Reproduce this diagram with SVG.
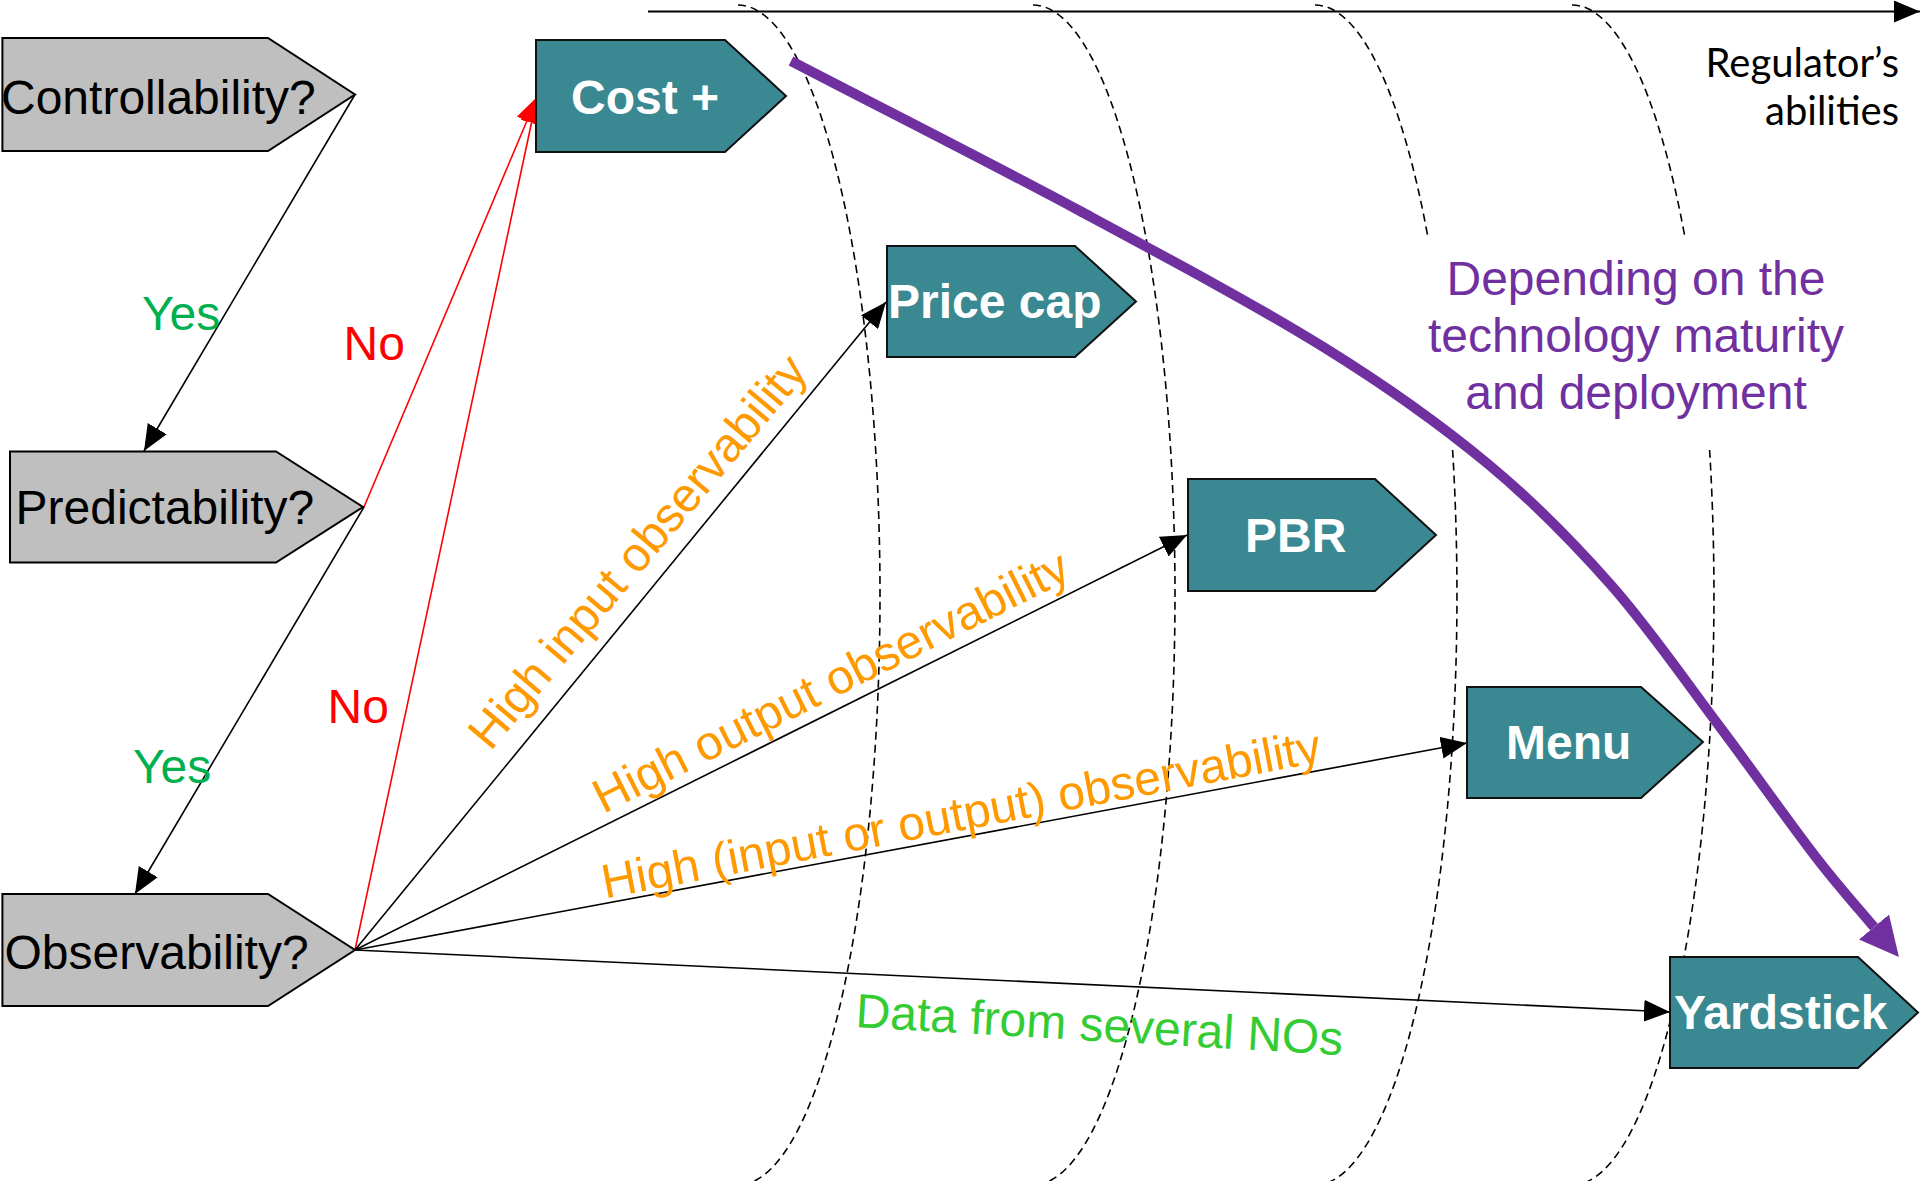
<svg xmlns="http://www.w3.org/2000/svg" width="1920" height="1181" viewBox="0 0 1920 1181">
<style>
.gray{fill:#BFBFBF;stroke:#000;stroke-width:2}
.teal{fill:#3A8891;stroke:#111;stroke-width:2}
.qt{font-family:"Liberation Sans",Arial,sans-serif;font-size:48px;fill:#000}
.rt{font-family:"Liberation Sans",Arial,sans-serif;font-size:48px;font-weight:bold;fill:#fff}
.lbl{font-family:"Liberation Sans",Arial,sans-serif;font-size:48px}
.dash{fill:none;stroke:#000;stroke-width:1.6;stroke-dasharray:8 5}
.conn{fill:none;stroke:#000;stroke-width:1.6}
.red{fill:none;stroke:#FF0000;stroke-width:1.6}
.yes{fill:#00B050}
.no{fill:#FF0000}
.or{fill:#FF9900}
</style>
<defs>
<marker id="ah" viewBox="0 0 26 22" refX="26" refY="11" markerWidth="26" markerHeight="22" markerUnits="userSpaceOnUse" orient="auto"><path d="M0,0 L26,11 L0,22 z" fill="#000"/></marker>
<marker id="ahr" viewBox="0 0 26 22" refX="26" refY="11" markerWidth="26" markerHeight="22" markerUnits="userSpaceOnUse" orient="auto"><path d="M0,0 L26,11 L0,22 z" fill="#FF0000"/></marker>
<marker id="ahp" viewBox="0 0 39 39" refX="0" refY="19.5" markerWidth="39" markerHeight="39" markerUnits="userSpaceOnUse" orient="auto"><path d="M0,0 L39,19.5 L0,39 z" fill="#7030A0"/></marker>
</defs>
<rect width="1920" height="1181" fill="#fff"/>
<g id="levels">
<path class="dash" d="M738 5 A142 590 0 0 1 738 1185"/>
<path class="dash" d="M1033 5 A142 590 0 0 1 1033 1185"/>
<path class="dash" d="M1315 5 A142 590 0 0 1 1427.9 237"/>
<path class="dash" d="M1452.6 450 A142 590 0 0 1 1315 1185"/>
<path class="dash" d="M1572 5 A142 590 0 0 1 1684.9 237"/>
<path class="dash" d="M1709.6 450 A142 590 0 0 1 1572 1185"/>
<line x1="648" y1="11.5" x2="1920" y2="11.5" stroke="#000" stroke-width="2" marker-end="url(#ah)"/>
</g>
<g id="connectors">
<line class="conn" x1="355" y1="94.5" x2="144" y2="451" marker-end="url(#ah)"/>
<line class="conn" x1="364" y1="507" x2="135" y2="894" marker-end="url(#ah)"/>
<line class="red" x1="364" y1="507" x2="537" y2="97" marker-end="url(#ahr)"/>
<line class="red" x1="355" y1="950" x2="537" y2="97" marker-end="url(#ahr)"/>
<line class="conn" x1="355" y1="950" x2="886" y2="302" marker-end="url(#ah)"/>
<line class="conn" x1="355" y1="950" x2="1187" y2="535" marker-end="url(#ah)"/>
<line class="conn" x1="355" y1="950" x2="1467" y2="743" marker-end="url(#ah)"/>
<line class="conn" x1="355" y1="950" x2="1670" y2="1012" marker-end="url(#ah)"/>
</g>
<g id="node-controllability">
<polygon class="gray" points="2.4,38 268,38 355,94.5 268,151 2.4,151"/>
<text class="qt" x="1" y="114">Controllability?</text>
</g>
<g id="node-predictability">
<polygon class="gray" points="10,451.5 276,451.5 363,507 276,562.5 10,562.5"/>
<text class="qt" x="15.5" y="524">Predictability?</text>
</g>
<g id="node-observability">
<polygon class="gray" points="2.4,894 268,894 355,950 268,1006 2.4,1006"/>
<text class="qt" x="4.5" y="969">Observability?</text>
</g>
<g id="node-costplus">
<polygon class="teal" points="536,40 725,40 786,96 725,152 536,152"/>
<text class="rt" x="571" y="114">Cost +</text>
</g>
<g id="node-pricecap">
<polygon class="teal" points="887,246 1075,246 1136,301.5 1075,357 887,357"/>
<text class="rt" x="888" y="318">Price cap</text>
</g>
<g id="node-pbr">
<polygon class="teal" points="1188,479 1375,479 1436,535 1375,591 1188,591"/>
<text class="rt" x="1245" y="552">PBR</text>
</g>
<g id="node-menu">
<polygon class="teal" points="1467,687 1641,687 1703,742 1641,798 1467,798"/>
<text class="rt" x="1506" y="759">Menu</text>
</g>
<g id="node-yardstick">
<polygon class="teal" points="1670,957 1858,957 1918,1012.5 1858,1068 1670,1068"/>
<text class="rt" x="1674" y="1029">Yardstick</text>
</g>
<g id="labels">
<text class="lbl yes" x="142" y="330">Yes</text>
<text class="lbl yes" x="133" y="783">Yes</text>
<text class="lbl no" x="343.5" y="360">No</text>
<text class="lbl no" x="327.5" y="723">No</text>
<text class="lbl or" text-anchor="middle" transform="translate(650 562) rotate(-50)">High input observability</text>
<text class="lbl or" text-anchor="middle" transform="translate(838 696) rotate(-26.7)">High output observability</text>
<text class="lbl or" text-anchor="middle" transform="translate(964 830) rotate(-10.8)">High (input or output) observability</text>
<text class="lbl" fill="#33CC33" transform="translate(855 1027) rotate(3.3)">Data from several NOs</text>
<text font-family="Lato,'Liberation Sans',sans-serif" font-size="40" fill="#000" text-anchor="end"><tspan x="1899" y="77">Regulator’s</tspan><tspan x="1899" y="125">abilities</tspan></text>
</g>
<g id="trend">
<path d="M791 61 C887.3 111 991 163.2 1080 211 C1169 258.8 1257 305.8 1325 348 C1393 390.2 1440.3 424.5 1488 464 C1535.7 503.5 1572.8 541.8 1611 585 C1649.2 628.2 1683 677.8 1717 723 C1751 768.2 1788.8 822 1815 856 C1841.2 890 1854.3 903.3 1874 927" fill="none" stroke="#7030A0" stroke-width="10" stroke-linejoin="round" marker-end="url(#ahp)"/>
<text class="lbl" fill="#7030A0" text-anchor="middle"><tspan x="1636" y="295">Depending on the</tspan><tspan x="1636" y="352">technology maturity</tspan><tspan x="1636" y="409">and deployment</tspan></text>
</g>
</svg>
